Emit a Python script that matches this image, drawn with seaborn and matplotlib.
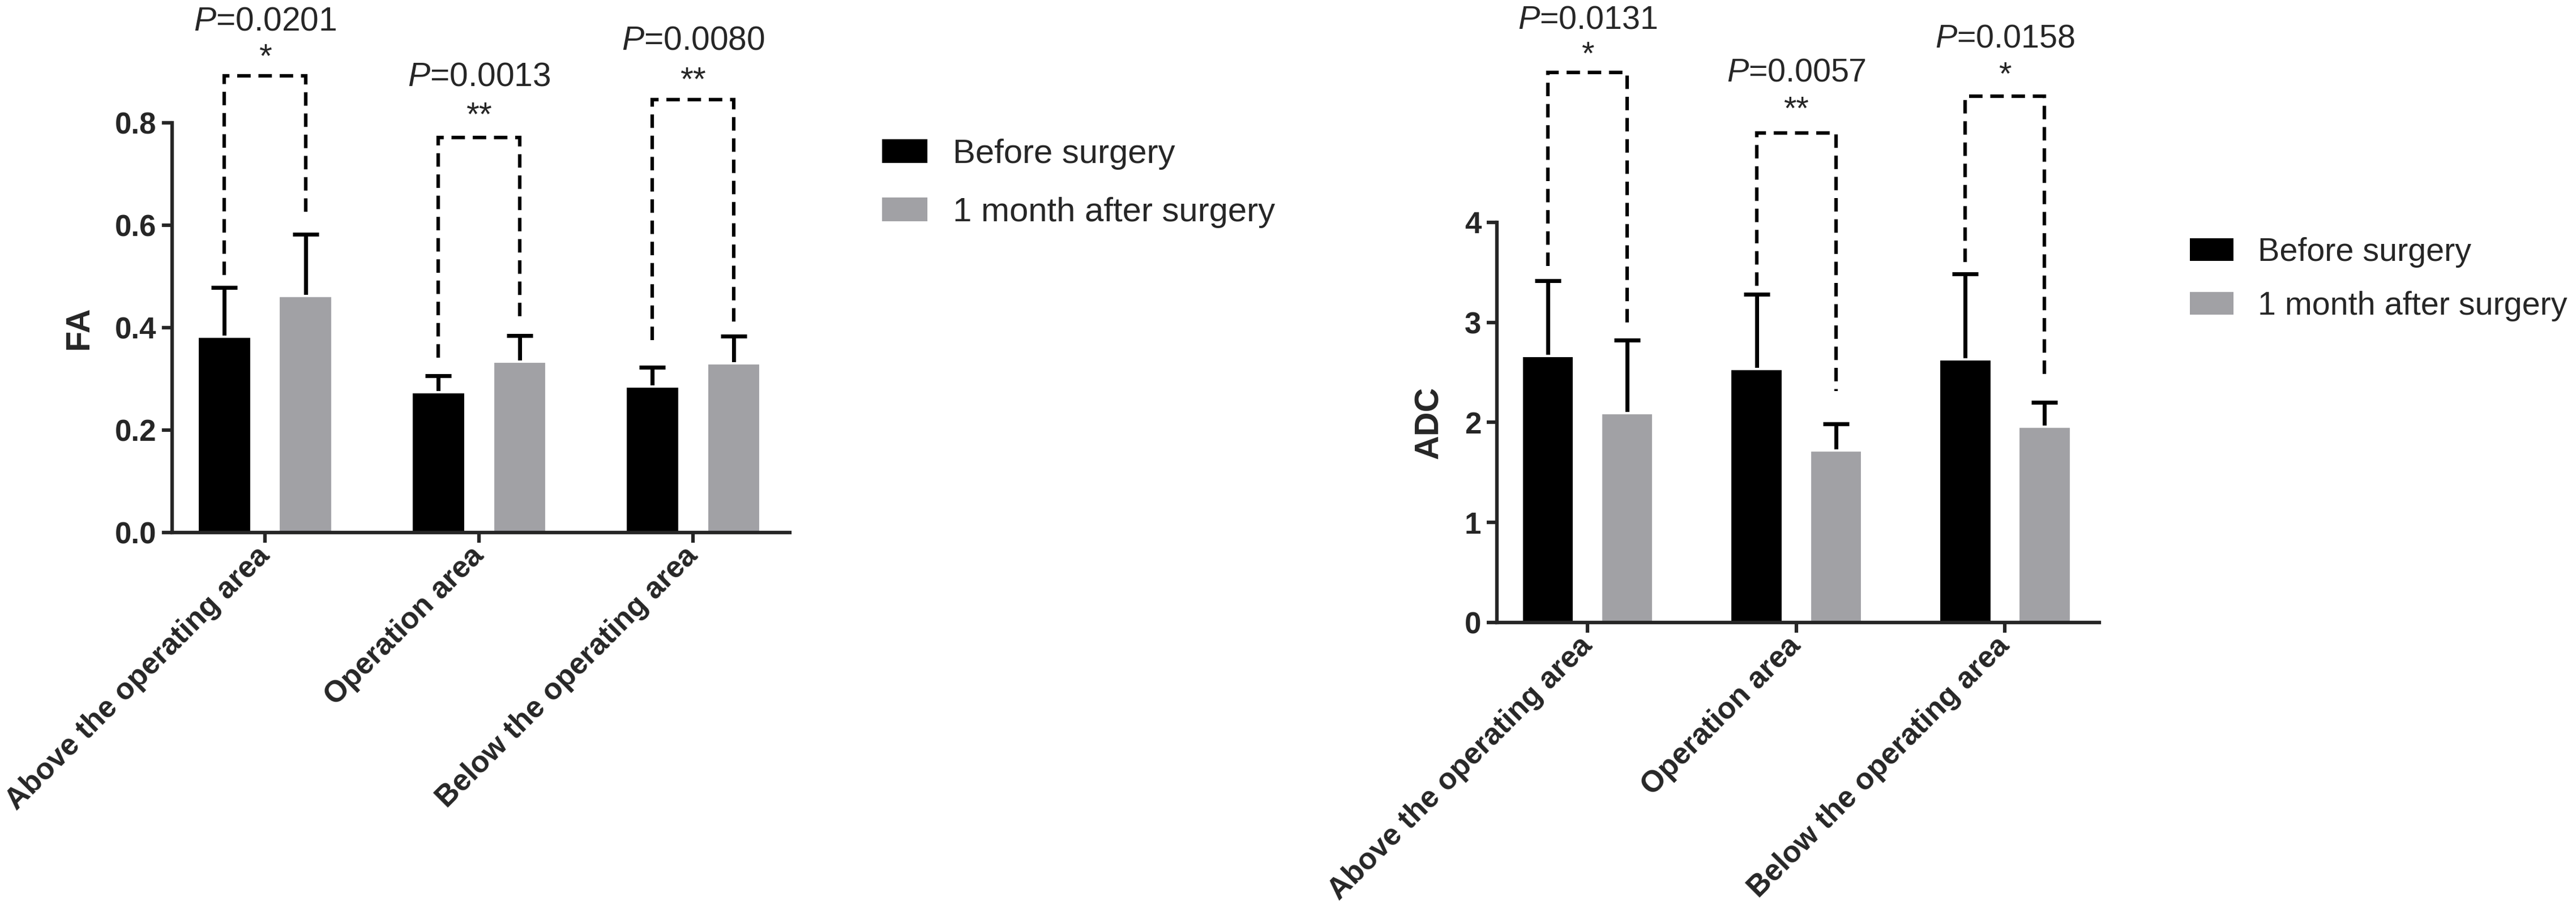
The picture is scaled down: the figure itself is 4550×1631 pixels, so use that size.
import matplotlib
matplotlib.use('Agg')
import matplotlib.pyplot as plt
import seaborn as sns
import numpy as np
import pandas as pd
from matplotlib.patches import Patch
from matplotlib.ticker import FormatStrFormatter

regions = ['Above the operating area', 'Operation area', 'Below the operating area']
times = ['Before surgery', '1 month after surgery']

# FA panel
fa_before = [0.382, 0.274, 0.285]
fa_before_sd = [0.096, 0.032, 0.038]
fa_after = [0.462, 0.334, 0.330]
fa_after_sd = [0.120, 0.051, 0.053]
fa_p = ['0.0201', '0.0013', '0.0080']
fa_stars = ['*', '**', '**']
fa_bracket_top = [0.892, 0.771, 0.845]
fa_leg_left = [0.503, 0.341, 0.376]
fa_leg_right = [0.616, 0.418, 0.405]
fa_p_y = [0.981, 0.872, 0.943]
fa_star_y = [0.909, 0.795, 0.864]

# ADC panel
adc_before = [2.663, 2.536, 2.631]
adc_before_sd = [0.754, 0.746, 0.853]
adc_after = [2.095, 1.718, 1.956]
adc_after_sd = [0.726, 0.270, 0.242]
adc_p = ['0.0131', '0.0057', '0.0158']
adc_stars = ['*', '**', '*']
adc_bracket_top = [5.497, 4.894, 5.263]
adc_leg_left = [3.564, 3.366, 3.604]
adc_leg_right = [2.930, 2.314, 2.455]
adc_p_y = [5.94, 5.41, 5.75]
adc_star_y = [5.58, 5.03, 5.375]

BLACK = '#000000'
GRAY = '#a1a1a5'

sns.set_style('ticks')
plt.rcParams['font.family'] = ['Liberation Sans', 'DejaVu Sans']
plt.rcParams['mathtext.fontset'] = 'custom'
plt.rcParams['mathtext.rm'] = 'Liberation Sans'
plt.rcParams['mathtext.it'] = 'Liberation Sans:italic'

fig = plt.figure(figsize=(4550 / 300, 1631 / 300), dpi=300)
ax_fa = fig.add_axes([0.06681, 0.42305, 0.23978, 0.44390])
ax_adc = fig.add_axes([0.58110, 0.32557, 0.23385, 0.43348])


def draw_panel(ax, before, before_sd, after, after_sd, ylabel, ymax, yticks, fmt,
               pvals, stars, top, legl, legr, py, sy, fs, leg_anchor, fs_leg, leg_space):
    df = pd.DataFrame({
        'region': regions * 2,
        'time': np.repeat(times, 3),
        'mean': before + after,
    })
    sns.barplot(data=df, x='region', y='mean', hue='time', palette=[BLACK, GRAY],
                width=0.76, gap=0.34, errorbar=None, saturation=1, legend=False,
                ax=ax, zorder=2)

    centers = []
    for cont, sd in zip(ax.containers, [before_sd, after_sd]):
        xs = [b.get_x() + b.get_width() / 2 for b in cont]
        hs = [b.get_height() for b in cont]
        centers.append(xs)
        ax.errorbar(xs, hs, yerr=sd, fmt='none', ecolor='black', elinewidth=1.7,
                    capsize=5.5, capthick=1.7, zorder=1.5)

    xb, xa = centers
    for i in range(3):
        ax.plot([xb[i], xb[i], xa[i], xa[i]], [legl[i], top[i], top[i], legr[i]],
                color='black', lw=1.5, dashes=(3.8, 2.2), clip_on=False,
                dash_capstyle='butt', dash_joinstyle='miter')
        xm = (xb[i] + xa[i]) / 2
        ax.text(xm, py[i], r'$\mathit{P}$=' + pvals[i], ha='center', va='baseline',
                fontsize=fs, clip_on=False)
        ax.text(xm, sy[i], stars[i], ha='center', va='baseline', fontsize=fs,
                clip_on=False)

    ax.set_xlim(-0.434, 2.452)
    ax.set_ylim(0, ymax)
    ax.set_yticks(yticks)
    ax.yaxis.set_major_formatter(FormatStrFormatter(fmt))
    sns.despine(ax=ax)
    for s in ['left', 'bottom']:
        ax.spines[s].set_linewidth(1.5)
    ax.tick_params(axis='both', direction='out', length=4.4, width=1.5,
                   labelsize=12.7, pad=2.2)
    ax.tick_params(axis='x', pad=3.5)
    ax.set_xlabel('')
    ax.set_ylabel(ylabel, fontsize=14.2, fontweight='bold', labelpad=8.5)
    plt.setp(ax.get_xticklabels(), rotation=45, ha='right', va='center',
             rotation_mode='anchor', fontweight='bold')
    plt.setp(ax.get_yticklabels(), fontweight='bold')

    handles = [Patch(facecolor=BLACK, edgecolor='none'),
               Patch(facecolor=GRAY, edgecolor='none')]
    ax.legend(handles, times, loc='upper left', bbox_to_anchor=leg_anchor,
              bbox_transform=fig.transFigure, frameon=False, fontsize=fs_leg,
              handlelength=1.34, handleheight=0.7, handletextpad=0.75,
              labelspacing=leg_space, borderpad=0, borderaxespad=0)


draw_panel(ax_fa, fa_before, fa_before_sd, fa_after, fa_after_sd, 'FA', 0.8,
           [0.0, 0.2, 0.4, 0.6, 0.8], '%.1f', fa_p, fa_stars, fa_bracket_top,
           fa_leg_left, fa_leg_right, fa_p_y, fa_star_y, 14.1,
           (1558 / 4550, 1 - 245 / 1631), 14.4, 0.8)
draw_panel(ax_adc, adc_before, adc_before_sd, adc_after, adc_after_sd, 'ADC', 4,
           [0, 1, 2, 3, 4], '%d', adc_p, adc_stars, adc_bracket_top,
           adc_leg_left, adc_leg_right, adc_p_y, adc_star_y, 13.8,
           (3868 / 4550, 1 - 419 / 1631), 13.8, 0.72)

fig.savefig('out.png', dpi=300)
